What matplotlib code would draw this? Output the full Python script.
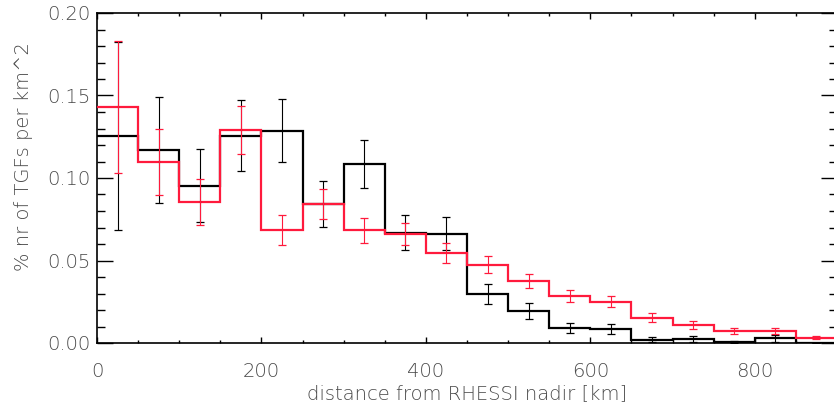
import numpy as np
import matplotlib
matplotlib.use("Agg")
import matplotlib.pyplot as plt
from matplotlib.ticker import MultipleLocator

# bin edges (km)
bin_edges = [0, 50, 100, 150, 200, 250, 300, 350, 400, 450, 500, 550, 600,
             650, 700, 750, 800, 850, 900]

black_vals = [0.1255, 0.117, 0.0953, 0.1256, 0.1287, 0.0844, 0.1083, 0.0669,
              0.0661, 0.0297, 0.0194, 0.0091, 0.0083, 0.0020, 0.0026, 0.0004,
              0.0028, 0.0]
black_err = [0.057, 0.032, 0.0222, 0.0214, 0.019, 0.014, 0.0145, 0.0106,
             0.010, 0.0062, 0.0050, 0.0033, 0.0030, 0.0015, 0.0017, 0.0006,
             0.0019, 0.0]

red_vals = [0.143, 0.110, 0.0855, 0.129, 0.0683, 0.0844, 0.0683, 0.0659,
            0.0545, 0.0475, 0.0376, 0.0285, 0.0250, 0.0153, 0.0109, 0.0071,
            0.0073, 0.0032]
red_err = [0.040, 0.020, 0.0137, 0.0144, 0.0091, 0.0092, 0.0077, 0.0068,
           0.0060, 0.0053, 0.0045, 0.0036, 0.0034, 0.0026, 0.0022, 0.0018,
           0.0020, 0.0008]

xlabel = "distance from RHESSI nadir [km]"
ylabel = "% nr of TGFs per km^2"

RED = "#ff1a3c"
TXT = "#4a4a4a"

plt.rcParams['font.family'] = ['DejaVu Sans']

fig = plt.figure(figsize=(8.34, 4.04), dpi=100)
W, H = 834, 404
left, right, top, bottom = 97, 837, 13, 343
ax = fig.add_axes([left / W, 1 - bottom / H, (right - left) / W, (bottom - top) / H])

edges = np.array(bin_edges, dtype=float)
centers = (edges[:-1] + edges[1:]) / 2

ax.stairs(black_vals, edges, color="black", lw=1.6, baseline=None, zorder=3)
ax.stairs(red_vals, edges, color=RED, lw=1.6, baseline=None, zorder=4)

ax.errorbar(centers, black_vals, yerr=black_err, fmt="none", ecolor="black",
            elinewidth=0.8, capsize=3, capthick=0.9, zorder=5)
ax.errorbar(centers, red_vals, yerr=red_err, fmt="none", ecolor=RED,
            elinewidth=0.8, capsize=3, capthick=0.9, zorder=6)

ax.set_xlim(0, 900)
ax.set_ylim(0, 0.2)

ax.xaxis.set_major_locator(MultipleLocator(200))
ax.xaxis.set_minor_locator(MultipleLocator(50))
ax.yaxis.set_major_locator(MultipleLocator(0.05))
ax.yaxis.set_minor_locator(MultipleLocator(0.01))
ax.yaxis.set_major_formatter(matplotlib.ticker.FormatStrFormatter("%.2f"))

ax.tick_params(axis="x", which="major", direction="in", length=4.3, width=1,
               top=True, bottom=True, pad=14, labelsize=14, labelcolor=TXT)
ax.tick_params(axis="x", which="minor", direction="in", length=2.4, width=1,
               top=True, bottom=True)
ax.tick_params(axis="y", which="major", direction="in", length=11.3, width=1,
               left=True, right=True, pad=5, labelsize=14, labelcolor=TXT)
ax.tick_params(axis="y", which="minor", direction="in", length=5.8, width=1,
               left=True, right=True)

for sp in ax.spines.values():
    sp.set_linewidth(1.2)

for lab in ax.get_xticklabels() + ax.get_yticklabels():
    lab.set_fontweight("light")

ax.set_xlabel(xlabel, fontsize=14, color=TXT, fontweight="light", labelpad=2)
fig.text(24 / W, 1 - 157 / H, ylabel, rotation=90, fontsize=14, color=TXT,
         fontweight="light", ha="center", va="center")

fig.savefig("out.png", dpi=100)
